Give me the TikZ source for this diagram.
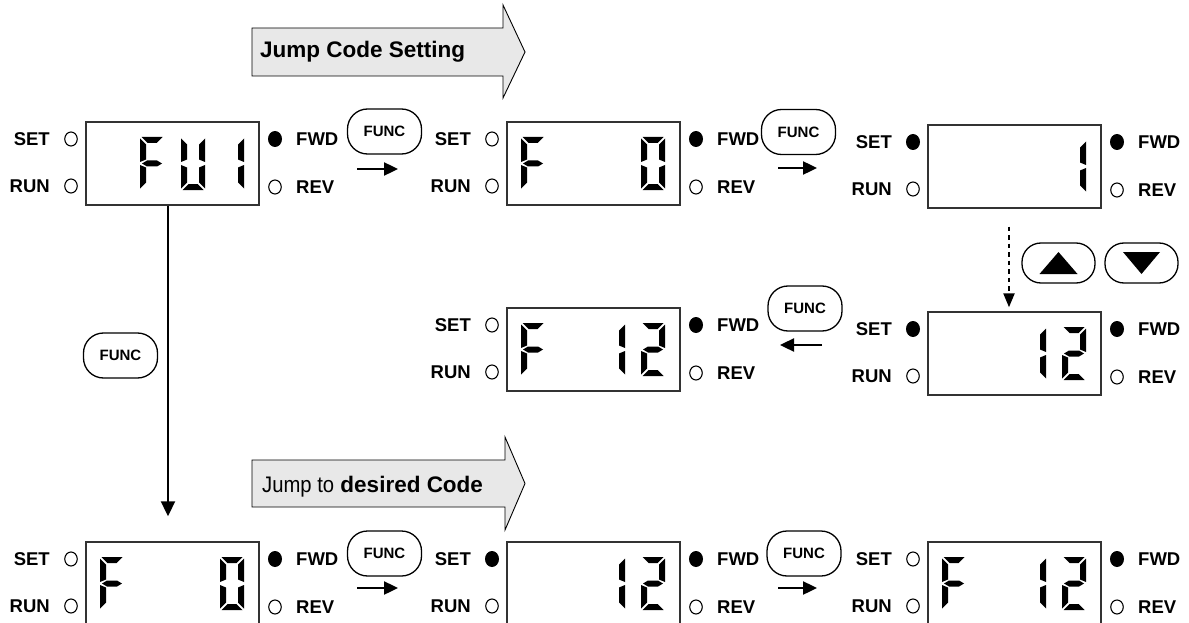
\documentclass[tikz,border=0pt]{standalone}
\usepackage{fontspec}
\setmainfont{Liberation Sans}
\newfontfamily\narrowfont[FakeStretch=0.9]{Liberation Sans}
\usetikzlibrary{arrows.meta,shapes.geometric}

\newcommand\lblfont{\fontsize{18.5}{21}\selectfont\bfseries}
\newcommand\btnfont{\fontsize{15}{17}\selectfont\bfseries}
\newcommand\bannerfont{\fontsize{22.5}{26}\selectfont}

% seven-segment glyph pieces (local frame: 24 wide, 53 tall, y downward)
\tikzset{
  sega/.pic={\fill (1.5,0) -- (22.5,0) -- (16.5,6) -- (7.5,6) -- cycle;},
  segb/.pic={\fill (24,1.5) -- (18,7.5) -- (18,22.5) -- (24,25) -- cycle;},
  segc/.pic={\fill (24,28) -- (18,30.5) -- (18,45.5) -- (24,51.5) -- cycle;},
  segd/.pic={\fill (1.5,53) -- (22.5,53) -- (16.5,47) -- (7.5,47) -- cycle;},
  sege/.pic={\fill (0,28) -- (6,30.5) -- (6,45.5) -- (0,51.5) -- cycle;},
  segf/.pic={\fill (0,1.5) -- (6,7.5) -- (6,22.5) -- (0,25) -- cycle;},
  segg/.pic={\fill (2,26.5) -- (7,23.5) -- (17,23.5) -- (22,26.5) -- (17,29.5) -- (7,29.5) -- cycle;},
  digF/.pic={\pic{sega};\pic{sege};\pic{segf};\pic{segg};},
  digU/.pic={\pic{segb};\pic{segc};\pic{segd};\pic{sege};\pic{segf};},
  digOne/.pic={\pic{segb};\pic{segc};},
  digZero/.pic={\pic{sega};\pic{segb};\pic{segc};\pic{segd};\pic{sege};\pic{segf};},
  digTwo/.pic={\pic{sega};\pic{segb};\pic{segg};\pic{sege};\pic{segd};},
}

% one operator panel: name, left, top, SET lamp style, digits
\newcommand\lcdpanel[5]{%
  \begin{scope}[shift={(#2,#3)}]
    \node[disp] (#1) at (86.5,41.5) {};
    \node[lbl,anchor=east] (#1-set) at (-36,17) {SET};
    \node[#4] (#1-setled) at (-15,17) {};
    \node[lbl,anchor=east] (#1-run) at (-36,64) {RUN};
    \node[ledoff] (#1-runled) at (-15,64) {};
    \node[ledon] (#1-fwdled) at (189,17) {};
    \node[lbl,anchor=west] (#1-fwd) at (210,17) {FWD};
    \node[ledoff] (#1-revled) at (189,65) {};
    \node[lbl,anchor=west] (#1-rev) at (210,65) {REV};
    #5
  \end{scope}}

\begin{document}
\begin{tikzpicture}[x=1pt,y=-1pt,
  disp/.style={draw=black!80,line width=1.4,minimum width=173,minimum height=83,inner sep=0},
  lbl/.style={font=\lblfont,inner sep=0},
  ledoff/.style={ellipse,draw,line width=1.1,minimum width=12.5,minimum height=14,inner sep=0},
  ledon/.style={ellipse,fill,minimum width=14,minimum height=16,inner sep=0},
  funcbtn/.style={draw,line width=1.3,rounded corners=20,minimum width=74,minimum height=45,inner sep=0,font=\btnfont},
  keybtn/.style={draw,line width=1.3,rounded corners=19,minimum width=73,minimum height=40,inner sep=0},
  stepflow/.style={line width=2.4,-{Triangle[length=14,width=13]}},
  flow/.style={line width=2,-{Triangle[length=15,width=14]}},
  dotflow/.style={line width=2.2,dash pattern=on 4.5pt off 4pt,-{Triangle[length=14,width=11]}},
  banner/.style={fill=black!9,draw=black,line width=0.9},
]
\fill[white] (0,0) rectangle (1189,623);
\useasboundingbox (0,0) rectangle (1189,623);

% banners
\draw[banner] (252,28) -- (503,28) -- (503,5) -- (525,52) -- (503,98) -- (503,76) -- (252,76) -- cycle;
\node[anchor=base west,inner sep=0,font=\bannerfont\bfseries] (t1) at (260,58) {Jump Code Setting};
\draw[banner] (252,460) -- (505,460) -- (505,437) -- (525,483.5) -- (505,530) -- (505,507) -- (252,507) -- cycle;
\node[anchor=base west,inner sep=0,font=\bannerfont] (t2) at (262,492) {{\narrowfont Jump to} \textbf{desired Code}};

% panels
\lcdpanel{p1}{86}{122}{ledoff}{\pic at (54,15) {digF}; \pic at (95,15) {digU}; \pic at (134,15) {digOne};}
\lcdpanel{p2}{507}{122}{ledoff}{\pic at (14,15) {digF}; \pic at (134,15) {digZero};}
\lcdpanel{p3}{928}{125}{ledon}{\pic at (134,15) {digOne};}
\lcdpanel{p4}{507}{308}{ledoff}{\pic at (14,15) {digF}; \pic at (94,15) {digOne}; \pic at (134,15) {digTwo};}
\lcdpanel{p5}{928}{312}{ledon}{\pic at (94,15) {digOne}; \pic at (134,15) {digTwo};}
\lcdpanel{p6}{86}{542}{ledoff}{\pic at (14,15) {digF}; \pic at (134,15) {digZero};}
\lcdpanel{p7}{507}{542}{ledon}{\pic at (94,15) {digOne}; \pic at (134,15) {digTwo};}
\lcdpanel{p8}{928}{542}{ledoff}{\pic at (14,15) {digF}; \pic at (94,15) {digOne}; \pic at (134,15) {digTwo};}

% FUNC keys
\node[funcbtn] (fa) at (384.5,131.5) {FUNC};
\node[funcbtn] (fb) at (798.5,132) {FUNC};
\node[funcbtn] (fc) at (805,308.5) {FUNC};
\node[funcbtn] (fl) at (120.5,355.5) {FUNC};
\node[funcbtn] (fd) at (384.5,553.5) {FUNC};
\node[funcbtn] (fe) at (804,553.5) {FUNC};

% up / down keys
\node[keybtn] (kup) at (1058.5,263) {};
\node[keybtn] (kdn) at (1141.5,263) {};
\fill ([shift={(-19,11)}]kup.center) -- ([shift={(19,11)}]kup.center) -- ([shift={(0,-11)}]kup.center) -- cycle;
\fill ([shift={(-18.5,-11)}]kdn.center) -- ([shift={(18.5,-11)}]kdn.center) -- ([shift={(0,11)}]kdn.center) -- cycle;

% key-press arrows
\coordinate (sa1) at (357,169); \coordinate (sa2) at (398,169);
\coordinate (sb1) at (778,168); \coordinate (sb2) at (817,168);
\coordinate (sc1) at (822,345); \coordinate (sc2) at (780,345);
\coordinate (sd1) at (357,588); \coordinate (sd2) at (398,588);
\coordinate (se1) at (778,588); \coordinate (se2) at (817,588);
\draw[stepflow] (sa1) -- (sa2);
\draw[stepflow] (sb1) -- (sb2);
\draw[stepflow] (sc1) -- (sc2);
\draw[stepflow] (sd1) -- (sd2);
\draw[stepflow] (se1) -- (se2);

% flow between panels
\draw[flow,shorten >=25pt] ([xshift=-4.5pt]p1.south) -- ([xshift=-4.5pt]p6.north);
\draw[dotflow,shorten <=18pt,shorten >=4pt] ([xshift=-5.5pt]p3.south) -- ([xshift=-5.5pt]p5.north);
\end{tikzpicture}
\end{document}
